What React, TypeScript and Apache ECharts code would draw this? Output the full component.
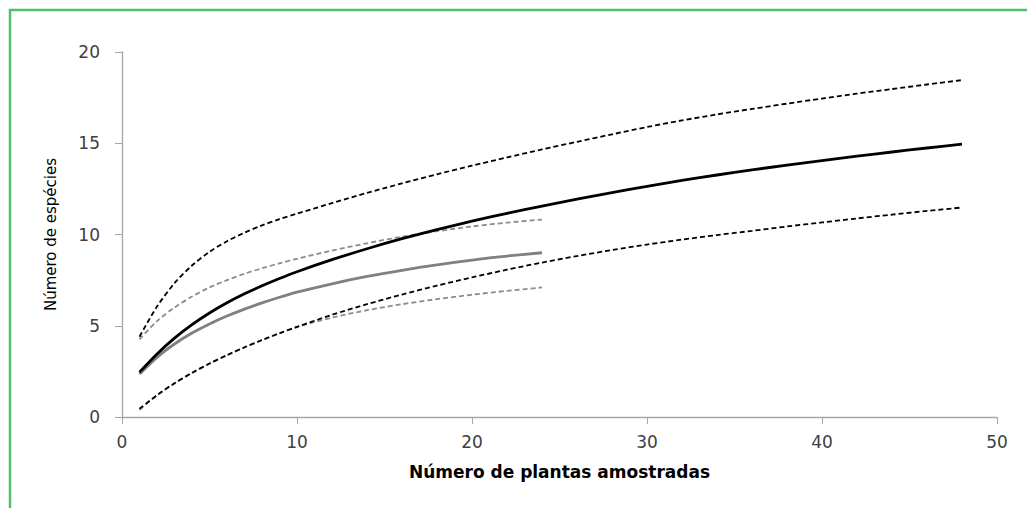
import React, { useEffect, useRef } from "react";
import * as echarts from "echarts";

const xBlack = [1, 2, 3, 4, 5, 6, 7, 8, 9, 10, 12, 14, 16, 18, 20, 22, 24, 26, 28, 30, 32, 34, 36, 38, 40, 42, 44, 46, 48];
const blackMean = [2.45, 3.45, 4.32, 5.06, 5.7, 6.26, 6.75, 7.19, 7.59, 7.96, 8.62, 9.22, 9.77, 10.27, 10.73, 11.16, 11.56, 11.94, 12.3, 12.64, 12.96, 13.26, 13.54, 13.8, 14.05, 14.29, 14.52, 14.74, 14.95];
const blackUpper = [4.4, 6.05, 7.33, 8.3, 9.05, 9.63, 10.1, 10.5, 10.84, 11.14, 11.72, 12.28, 12.8, 13.3, 13.77, 14.22, 14.66, 15.08, 15.49, 15.89, 16.25, 16.58, 16.88, 17.17, 17.45, 17.72, 17.97, 18.22, 18.46];
const blackLower = [0.45, 1.2, 1.85, 2.42, 2.93, 3.39, 3.82, 4.22, 4.59, 4.94, 5.6, 6.18, 6.71, 7.2, 7.65, 8.07, 8.46, 8.82, 9.15, 9.45, 9.72, 9.97, 10.2, 10.44, 10.66, 10.88, 11.09, 11.29, 11.48];

const xGray = [1, 2, 3, 4, 5, 6, 7, 8, 9, 10, 12, 14, 16, 18, 20, 22, 24];
const grayMean = [2.35, 3.27, 4.0, 4.6, 5.1, 5.53, 5.91, 6.25, 6.56, 6.84, 7.3, 7.7, 8.04, 8.34, 8.6, 8.82, 9.0];
const grayUpper = [4.25, 5.25, 6.0, 6.6, 7.1, 7.5, 7.85, 8.15, 8.42, 8.67, 9.12, 9.52, 9.88, 10.18, 10.44, 10.65, 10.82];
const grayLower = [0.4, 1.18, 1.84, 2.41, 2.92, 3.38, 3.81, 4.21, 4.58, 4.93, 5.45, 5.85, 6.18, 6.46, 6.7, 6.91, 7.1];

const yTicks = [0, 5, 10, 15, 20];
const xTicks = [0, 10, 20, 30, 40, 50];

const pair = (xs: number[], ys: number[]) => xs.map((x, i) => [x, ys[i]]);

export default function App() {
  const ref = useRef<HTMLDivElement>(null);
  useEffect(() => {
    document.body.style.margin = "0";
    const chart = echarts.init(ref.current!, undefined, { renderer: "svg" });
    const mk = (name: string, data: number[][], color: string, width: number, dashed: boolean, z: number) => ({
      name,
      type: "line",
      data,
      smooth: 0.3,
      showSymbol: false,
      symbol: "none",
      z,
      lineStyle: { color, width, type: dashed ? [5, 3] : "solid", cap: "butt" },
    });
    chart.setOption({
      animation: false,
      backgroundColor: "#ffffff",
      graphic: [
        {
          type: "rect",
          shape: { x: 10, y: 10, width: 1040, height: 520 },
          style: { fill: "none", stroke: "#4fc06c", lineWidth: 2.5 },
          silent: true,
        },
      ],
      grid: { left: 122, top: 52, width: 875, height: 365 },
      xAxis: {
        type: "value",
        min: xTicks[0],
        max: xTicks[xTicks.length - 1],
        interval: 10,
        name: "Número de plantas amostradas",
        nameLocation: "middle",
        nameGap: 46,
        nameTextStyle: { fontFamily: "DejaVu Sans", fontWeight: "bold", fontSize: 17, color: "#000" },
        axisLine: { lineStyle: { color: "#a6a6a6", width: 1.3 } },
        axisTick: { show: true, inside: false, length: 7, lineStyle: { color: "#a6a6a6" } },
        axisLabel: { margin: 16, fontFamily: "DejaVu Sans", fontSize: 17, color: "#404040" },
        splitLine: { show: false },
      },
      yAxis: {
        type: "value",
        min: yTicks[0],
        max: yTicks[yTicks.length - 1],
        interval: 5,
        name: "Número de espécies",
        nameLocation: "middle",
        nameGap: 64,
        nameTextStyle: { fontFamily: "DejaVu Sans", fontSize: 15, color: "#000" },
        axisLine: { show: true, lineStyle: { color: "#a6a6a6", width: 1.3 } },
        axisTick: { show: true, inside: false, length: 7, lineStyle: { color: "#a6a6a6" } },
        axisLabel: { margin: 22, fontFamily: "DejaVu Sans", fontSize: 17, color: "#404040" },
        splitLine: { show: false },
      },
      series: [
        mk("Gray lower", pair(xGray, grayLower), "#8c8c8c", 1.8, true, 2),
        mk("Gray upper", pair(xGray, grayUpper), "#8c8c8c", 1.8, true, 2),
        mk("Gray mean", pair(xGray, grayMean), "#808080", 2.8, false, 3),
        mk("Black lower", pair(xBlack, blackLower), "#000000", 1.8, true, 4),
        mk("Black upper", pair(xBlack, blackUpper), "#000000", 1.8, true, 4),
        mk("Black mean", pair(xBlack, blackMean), "#000000", 2.8, false, 5),
      ],
    });
    return () => chart.dispose();
  }, []);
  return <div ref={ref} style={{ width: 1027, height: 508 }} />;
}
